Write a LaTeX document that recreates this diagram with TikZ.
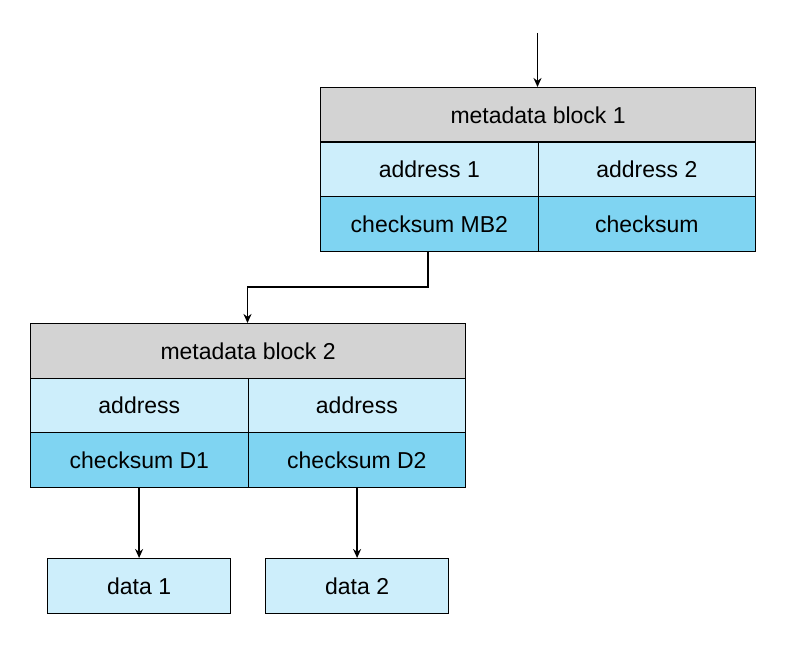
\documentclass[tikz,border=0pt]{standalone}
\usepackage{fontspec}
\setmainfont{Liberation Sans}
\usetikzlibrary{arrows.meta}
\definecolor{hdr}{HTML}{D3D3D3}
\definecolor{lb}{HTML}{CDEEFB}
\definecolor{db}{HTML}{7FD4F2}
\begin{document}
\begin{tikzpicture}[x=1pt,y=-1pt,
  cell/.style={draw=black,line width=1.2pt,inner sep=0pt,font=\fontsize{23}{26}\selectfont,anchor=north west,minimum height=54.5pt},
  wide/.style={cell,minimum width=435pt},
  half/.style={cell,minimum width=217.5pt},
  arr/.style={-{Stealth[length=9pt,width=8pt]},line width=1.5pt}]
\useasboundingbox (0,0) rectangle (785,650);
\node[wide,fill=hdr] (h1) at (320,87) {metadata block 1};
\node[half,fill=lb] (a1) at (320,141.5) {address 1};
\node[half,fill=lb] (a2) at (537.5,141.5) {address 2};
\node[half,fill=db] (c1) at (320,196) {checksum MB2};
\node[half,fill=db] (c2) at (537.5,196) {checksum};
\node[wide,fill=hdr] (h2) at (30,323) {metadata block 2};
\node[half,fill=lb] (b1) at (30,377.5) {address};
\node[half,fill=lb] (b2) at (247.5,377.5) {address};
\node[half,fill=db] (d1) at (30,432) {checksum D1};
\node[half,fill=db] (d2) at (247.5,432) {checksum D2};
\node[cell,fill=lb,minimum width=183pt] (e1) at (47,558) {data 1};
\node[cell,fill=lb,minimum width=183pt] (e2) at (265,558) {data 2};
\coordinate (top) at (537.5,33);
\draw[arr] (top) -- (h1.north -| top);
\draw[arr] (c1.south -| 428,0) -- (428,287) -| (h2.north -| 247.5,0);
\draw[arr] (d1.south -| e1.north) -- (e1.north);
\draw[arr] (d2.south -| e2.north) -- (e2.north);
\end{tikzpicture}
\end{document}
